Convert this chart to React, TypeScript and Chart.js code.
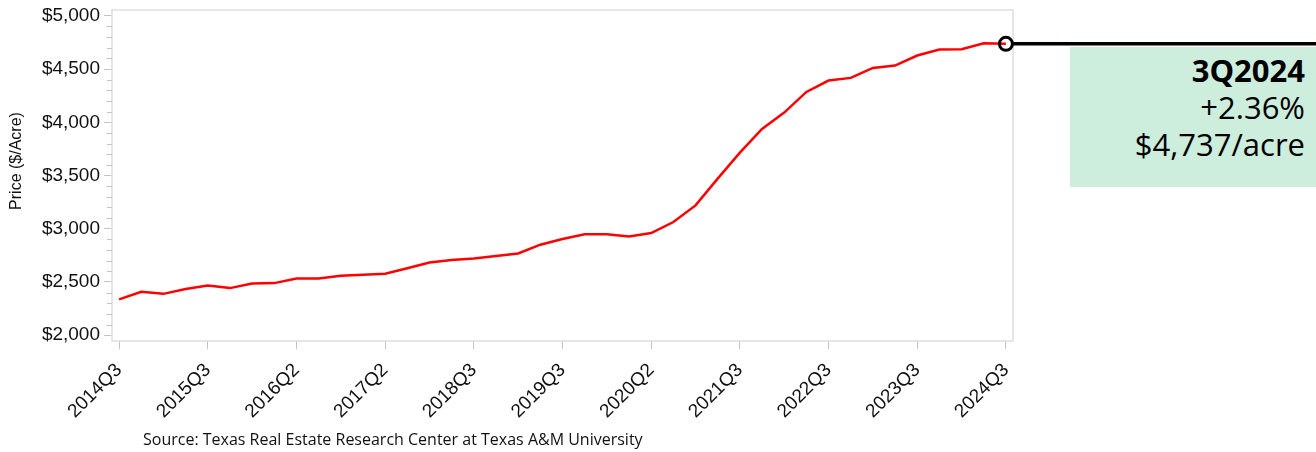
import React, { useEffect, useRef } from "react";
import { Chart, registerables } from "chart.js";

Chart.register(...registerables);

const quarters: string[] = [
  "2014Q3","2014Q4","2015Q1","2015Q2","2015Q3","2015Q4","2016Q1","2016Q2","2016Q3","2016Q4",
  "2017Q1","2017Q2","2017Q3","2017Q4","2018Q1","2018Q2","2018Q3","2018Q4","2019Q1","2019Q2",
  "2019Q3","2019Q4","2020Q1","2020Q2","2020Q3","2020Q4","2021Q1","2021Q2","2021Q3","2021Q4",
  "2022Q1","2022Q2","2022Q3","2022Q4","2023Q1","2023Q2","2023Q3","2023Q4","2024Q1","2024Q2","2024Q3",
];
const prices: number[] = [
  2336, 2407, 2388, 2433, 2467, 2442, 2486, 2489, 2533, 2533,
  2558, 2567, 2577, 2628, 2683, 2705, 2721, 2743, 2768, 2850,
  2903, 2947, 2947, 2928, 2959, 3063, 3219, 3471, 3715, 3937,
  4091, 4285, 4392, 4417, 4511, 4533, 4627, 4683, 4686, 4742, 4737,
];
const tickIndex: number[] = [0, 4, 8, 12, 16, 20, 24, 28, 32, 36, 40];
const tickLabels: string[] = [
  "2014Q3","2015Q3","2016Q2","2017Q2","2018Q3","2019Q3","2020Q2","2021Q3","2022Q3","2023Q3","2024Q3",
];
const yTicks: number[] = [2000, 2500, 3000, 3500, 4000, 4500, 5000];
const yTitle = "Price ($/Acre)";
const callout: string[] = ["3Q2024", "+2.36%", "$4,737/acre"];
const sourceText = "Source: Texas Real Estate Research Center at Texas A&M University";

export default function App() {
  const ref = useRef<HTMLCanvasElement | null>(null);

  useEffect(() => {
    document.body.style.margin = "0";
    const canvas = ref.current;
    if (!canvas) return;

    const decor = {
      id: "decor",
      beforeDatasetsDraw(chart: any) {
        const { ctx, chartArea: a, scales } = chart;
        ctx.save();
        ctx.strokeStyle = "#dedede";
        ctx.lineWidth = 1.5;
        ctx.strokeRect(a.left, a.top, a.right - a.left, a.bottom - a.top);
        // minor y ticks
        ctx.strokeStyle = "#c4c4c4";
        ctx.lineWidth = 1;
        const ys = scales.y;
        for (let v = 2000; v <= 5000; v += 100) {
          if (v % 500 === 0) continue;
          const py = Math.round(ys.getPixelForValue(v)) + 0.5;
          ctx.beginPath();
          ctx.moveTo(a.left - 5, py);
          ctx.lineTo(a.left, py);
          ctx.stroke();
        }
        // y axis title
        ctx.save();
        ctx.translate(17, 161);
        ctx.rotate(-Math.PI / 2);
        ctx.fillStyle = "#111";
        ctx.font = "16px 'Liberation Sans'";
        ctx.textAlign = "center";
        ctx.textBaseline = "middle";
        ctx.fillText(yTitle, 0, 0);
        ctx.restore();
        ctx.restore();
      },
      afterDatasetsDraw(chart: any) {
        const { ctx, scales } = chart;
        const last = prices.length - 1;
        const px = scales.x.getPixelForValue(last);
        const py = scales.y.getPixelForValue(prices[last]);
        ctx.save();
        ctx.strokeStyle = "#000";
        ctx.lineWidth = 3.5;
        ctx.beginPath();
        ctx.moveTo(px + 7, py);
        ctx.lineTo(chart.width, py);
        ctx.stroke();
        ctx.lineWidth = 3;
        ctx.beginPath();
        ctx.arc(px, py, 6.5, 0, Math.PI * 2);
        ctx.stroke();
        ctx.restore();
      },
    };

    const chart = new Chart(canvas, {
      type: "line",
      data: {
        datasets: [
          {
            data: prices.map((p, i) => ({ x: i, y: p })),
            borderColor: "#ff0000",
            borderWidth: 2.5,
            pointRadius: 0,
            tension: 0,
          },
        ],
      },
      options: {
        animation: false,
        responsive: false,
        maintainAspectRatio: false,
        layout: { padding: { left: 0, right: 303, top: 10, bottom: 0 } },
        plugins: { legend: { display: false }, tooltip: { enabled: false } },
        scales: {
          x: {
            type: "linear",
            min: -0.32,
            max: 40.32,
            afterBuildTicks: (s: any) => {
              s.ticks = tickIndex.map((v) => ({ value: v }));
            },
            afterFit: (s: any) => {
              s.height = 111;
              s.paddingLeft = 0;
              s.paddingRight = 0;
            },
            border: { display: false },
            grid: {
              drawOnChartArea: false,
              drawTicks: true,
              tickLength: 8,
              tickColor: "#c4c4c4",
            },
            ticks: {
              autoSkip: false,
              maxRotation: 45,
              minRotation: 45,
              padding: 10,
              color: "#111",
              font: { family: "Liberation Sans", size: 19 },
              callback: (v: any) => {
                const k = tickIndex.indexOf(Number(v));
                return k >= 0 ? tickLabels[k] : "";
              },
            },
          },
          y: {
            type: "linear",
            min: 1945,
            max: 5055,
            afterBuildTicks: (s: any) => {
              s.ticks = yTicks.map((v) => ({ value: v }));
            },
            afterFit: (s: any) => {
              s.width = 112;
              s.paddingTop = 0;
              s.paddingBottom = 0;
            },
            border: { display: false },
            grid: {
              drawOnChartArea: false,
              drawTicks: true,
              tickLength: 8,
              tickColor: "#c4c4c4",
            },
            ticks: {
              padding: 4,
              color: "#111",
              font: { family: "Liberation Sans", size: 19 },
              callback: (v: any) => "$" + Number(v).toLocaleString("en-US"),
            },
          },
        },
      },
      plugins: [decor],
    } as any);

    return () => chart.destroy();
  }, []);

  return (
    <div style={{ position: "relative", width: 1316, height: 452, background: "#fff", overflow: "hidden" }}>
      <canvas ref={ref} width={1316} height={452} style={{ position: "absolute", left: 0, top: 0 }} />
      <div
        style={{
          position: "absolute",
          left: 1070,
          top: 47,
          width: 246,
          height: 140,
          background: "#cdeddd",
          boxSizing: "border-box",
          paddingTop: 5,
          paddingRight: 11,
          textAlign: "right",
          fontFamily: "'Open Sans', sans-serif",
          fontSize: 31,
          lineHeight: "37px",
          color: "#000",
        }}
      >
        <div style={{ fontWeight: 700 }}>{callout[0]}</div>
        <div>{callout[1]}</div>
        <div>{callout[2]}</div>
      </div>
      <div
        style={{
          position: "absolute",
          left: 143,
          top: 428,
          fontFamily: "'Open Sans', sans-serif",
          fontSize: 16,
          color: "#111",
          whiteSpace: "nowrap",
        }}
      >
        {sourceText}
      </div>
    </div>
  );
}
